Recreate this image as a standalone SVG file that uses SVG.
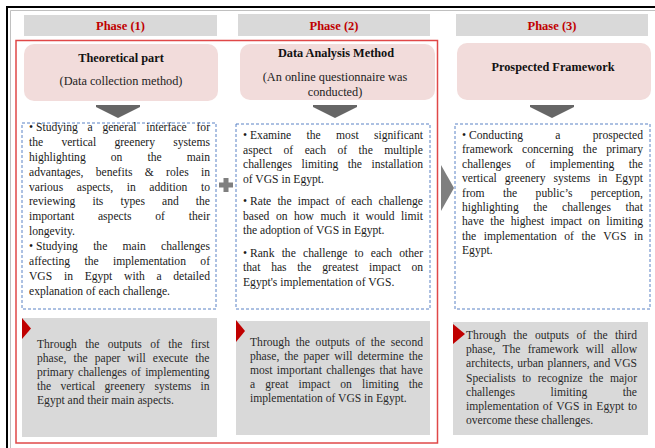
<svg xmlns="http://www.w3.org/2000/svg" width="655" height="448" viewBox="0 0 655 448">
<style>
text{font-family:"Liberation Serif","Times New Roman",serif;}
.hdr{fill:#d9d9d9;}
.ph{font-size:12.5px;font-weight:bold;fill:#c00000;text-anchor:middle;}
.pink{fill:#f2dcdb;}
.tt{font-size:12.3px;font-weight:bold;fill:#111;text-anchor:middle;}
.ts{font-size:12.3px;fill:#222;text-anchor:middle;}
.dash{fill:#fff;stroke:#5b82c5;stroke-width:1;stroke-dasharray:3 2;}
.b{font-size:11.6px;fill:#1a1a1a;}
.o{font-size:11.6px;fill:#2a2a2a;}
.gbox{fill:#d9d9d9;}
.rtri{fill:#c00000;}
.arr{fill:#666;}
.conn{fill:#7f7f7f;}
</style>
<g id="frame">
<polyline points="7,448 7,7 655,7" fill="none" stroke="#000" stroke-width="2"/>
<polyline points="10.5,448 10.5,10.5 655,10.5" fill="none" stroke="#b0b0b0" stroke-width="0.8"/>
</g>
<g id="group-phase12">
<rect x="16" y="40.5" width="421.5" height="402.5" fill="none" stroke="#e04848" stroke-width="1.5"/>
</g>
<g id="phase1-header">
<rect class="hdr" x="24" y="15" width="193" height="21"/>
<text class="ph" x="120.5" y="30">Phase (1)</text>
</g>
<g id="phase2-header">
<rect class="hdr" x="238" y="14" width="192" height="22"/>
<text class="ph" x="334" y="30">Phase (2)</text>
</g>
<g id="phase3-header">
<rect class="hdr" x="456" y="14" width="192" height="22"/>
<text class="ph" x="552" y="30">Phase (3)</text>
</g>
<g id="phase1-title">
<rect class="pink" x="24" y="44" width="194" height="57" rx="10"/>
<text class="tt" x="121" y="62">Theoretical part</text>
<text class="ts" x="121" y="85">(Data collection method)</text>
</g>
<g id="phase2-title">
<rect class="pink" x="240" y="44" width="195" height="56" rx="10"/>
<text class="tt" x="336" y="57">Data Analysis Method</text>
<text class="ts" x="335" y="81">(An online questionnaire was</text>
<text class="ts" x="335" y="96">conducted)</text>
</g>
<g id="phase3-title">
<rect class="pink" x="457" y="43" width="194" height="57" rx="10"/>
<text class="tt" x="553" y="71">Prospected Framework</text>
</g>
<g id="phase1-details">
<rect class="dash" x="22" y="123" width="194" height="186"/>
<text class="b" x="29" y="131">•</text>
<text class="b" x="36" y="131" textLength="174" lengthAdjust="spacing" word-spacing="6.8">Studying a general interface for</text>
<text class="b" x="29" y="146" textLength="181" lengthAdjust="spacing" word-spacing="15.3">the vertical greenery systems</text>
<text class="b" x="29" y="161" textLength="181" lengthAdjust="spacing" word-spacing="22.2">highlighting on the main</text>
<text class="b" x="29" y="175.5" textLength="181" lengthAdjust="spacing" word-spacing="9.4">advantages, benefits &amp; roles in</text>
<text class="b" x="29" y="190.5" textLength="181" lengthAdjust="spacing" word-spacing="10.7">various aspects, in addition to</text>
<text class="b" x="29" y="205" textLength="181" lengthAdjust="spacing" word-spacing="14.2">reviewing its types and the</text>
<text class="b" x="29" y="220" textLength="181" lengthAdjust="spacing" word-spacing="20.9">important aspects of their</text>
<text class="b" x="29" y="235">longevity.</text>
<text class="b" x="29" y="250">•</text>
<text class="b" x="36" y="250" textLength="174" lengthAdjust="spacing" word-spacing="12.4">Studying the main challenges</text>
<text class="b" x="29" y="264.5" textLength="181" lengthAdjust="spacing" word-spacing="11.5">affecting the implementation of</text>
<text class="b" x="29" y="279.5" textLength="181" lengthAdjust="spacing" word-spacing="8.8">VGS in Egypt with a detailed</text>
<text class="b" x="29" y="294.5">explanation of each challenge.</text>
</g>
<g id="phase2-details">
<rect class="dash" x="236" y="124" width="194" height="185"/>
<text class="b" x="243" y="139">•</text>
<text class="b" x="250" y="139" textLength="173" lengthAdjust="spacing" word-spacing="12.4">Examine the most significant</text>
<text class="b" x="243" y="153.5" textLength="180" lengthAdjust="spacing" word-spacing="8.6">aspect of each of the multiple</text>
<text class="b" x="243" y="168" textLength="180" lengthAdjust="spacing" word-spacing="6.6">challenges limiting the installation</text>
<text class="b" x="243" y="182.5">of VGS in Egypt.</text>
<text class="b" x="243" y="205">•</text>
<text class="b" x="250" y="205" textLength="173" lengthAdjust="spacing" word-spacing="3.2">Rate the impact of each challenge</text>
<text class="b" x="243" y="219.5" textLength="180" lengthAdjust="spacing" word-spacing="3.6">based on how much it would limit</text>
<text class="b" x="243" y="234">the adoption of VGS in Egypt.</text>
<text class="b" x="243" y="256.5">•</text>
<text class="b" x="250" y="256.5" textLength="173" lengthAdjust="spacing" word-spacing="4.3">Rank the challenge to each other</text>
<text class="b" x="243" y="271" textLength="180" lengthAdjust="spacing" word-spacing="7.8">that has the greatest impact on</text>
<text class="b" x="243" y="285.5">Egypt's implementation of VGS.</text>
</g>
<g id="phase3-details">
<rect class="dash" x="455" y="124" width="195" height="185"/>
<text class="b" x="462" y="139">•</text>
<text class="b" x="469" y="139" textLength="174" lengthAdjust="spacing" word-spacing="29.3">Conducting a prospected</text>
<text class="b" x="462" y="153.4" textLength="181" lengthAdjust="spacing" word-spacing="6.3">framework concerning the primary</text>
<text class="b" x="462" y="167.8" textLength="181" lengthAdjust="spacing" word-spacing="11.7">challenges of implementing the</text>
<text class="b" x="462" y="182.2" textLength="181" lengthAdjust="spacing" word-spacing="5.1">vertical greenery systems in Egypt</text>
<text class="b" x="462" y="196.6" textLength="181" lengthAdjust="spacing" word-spacing="15.4">from the public’s perception,</text>
<text class="b" x="462" y="211" textLength="181" lengthAdjust="spacing" word-spacing="11.7">highlighting the challenges that</text>
<text class="b" x="462" y="225.4" textLength="181" lengthAdjust="spacing" word-spacing="3.4">have the highest impact on limiting</text>
<text class="b" x="462" y="239.8" textLength="181" lengthAdjust="spacing" word-spacing="4.7">the implementation of the VGS in</text>
<text class="b" x="462" y="254.2">Egypt.</text>
</g>
<g id="phase1-output">
<rect class="gbox" x="22" y="318" width="195" height="119"/>
<polygon class="rtri" points="22,318 31,328.5 22,339"/>
<text class="o" x="37" y="347.5" textLength="172.5" lengthAdjust="spacing" word-spacing="5.5">Through the outputs of the first</text>
<text class="o" x="37" y="361.7" textLength="172.5" lengthAdjust="spacing" word-spacing="4.2">phase, the paper will execute the</text>
<text class="o" x="37" y="375.9" textLength="172.5" lengthAdjust="spacing" word-spacing="1.4">primary challenges of implementing</text>
<text class="o" x="37" y="390.1" textLength="172.5" lengthAdjust="spacing" word-spacing="6.4">the vertical greenery systems in</text>
<text class="o" x="37" y="404.3">Egypt and their main aspects.</text>
</g>
<g id="phase2-output">
<rect class="gbox" x="236" y="321" width="194" height="114"/>
<polygon class="rtri" points="236,320 245,331 236,342"/>
<text class="o" x="250" y="345.5" textLength="173" lengthAdjust="spacing" word-spacing="2.8">Through the outputs of the second</text>
<text class="o" x="250" y="359.7" textLength="173" lengthAdjust="spacing" word-spacing="2.1">phase, the paper will determine the</text>
<text class="o" x="250" y="373.9" textLength="173" lengthAdjust="spacing" word-spacing="1.4">most important challenges that have</text>
<text class="o" x="250" y="388.1" textLength="173" lengthAdjust="spacing" word-spacing="7.2">a great impact on limiting the</text>
<text class="o" x="250" y="402.3">implementation of VGS in Egypt.</text>
</g>
<g id="phase3-output">
<rect class="gbox" x="453" y="322" width="195" height="113"/>
<polygon class="rtri" points="453,324 465,334 453,344"/>
<text class="o" x="466" y="339" textLength="171" lengthAdjust="spacing" word-spacing="4.5">Through the outputs of the third</text>
<text class="o" x="466" y="353.2" textLength="171" lengthAdjust="spacing" word-spacing="4.3">phase, The framework will allow</text>
<text class="o" x="466" y="367.4" textLength="171" lengthAdjust="spacing" word-spacing="0.9">architects, urban planners, and VGS</text>
<text class="o" x="466" y="381.6" textLength="171" lengthAdjust="spacing" word-spacing="3.6">Specialists to recognize the major</text>
<text class="o" x="466" y="395.8" textLength="171" lengthAdjust="spacing" word-spacing="32.7">challenges limiting the</text>
<text class="o" x="466" y="410" textLength="171" lengthAdjust="spacing" word-spacing="1.0">implementation of VGS in Egypt to</text>
<text class="o" x="466" y="424.2">overcome these challenges.</text>
</g>
<g id="connectors">
<polygon class="arr" points="96,105 140,105 140,107 118,118 96,107"/>
<polygon class="arr" points="313,105 357,105 357,107 335,118 313,107"/>
<polygon class="arr" points="530,105 574,105 574,107 552,118 530,107"/>
<path class="conn" d="M223.5,178 h5 v4.5 h4.5 v5 h-4.5 v4.5 h-5 v-4.5 h-4.5 v-5 h4.5 z"/>
<polygon class="conn" points="441,165 454,188 441,211"/>
</g>
</svg>
